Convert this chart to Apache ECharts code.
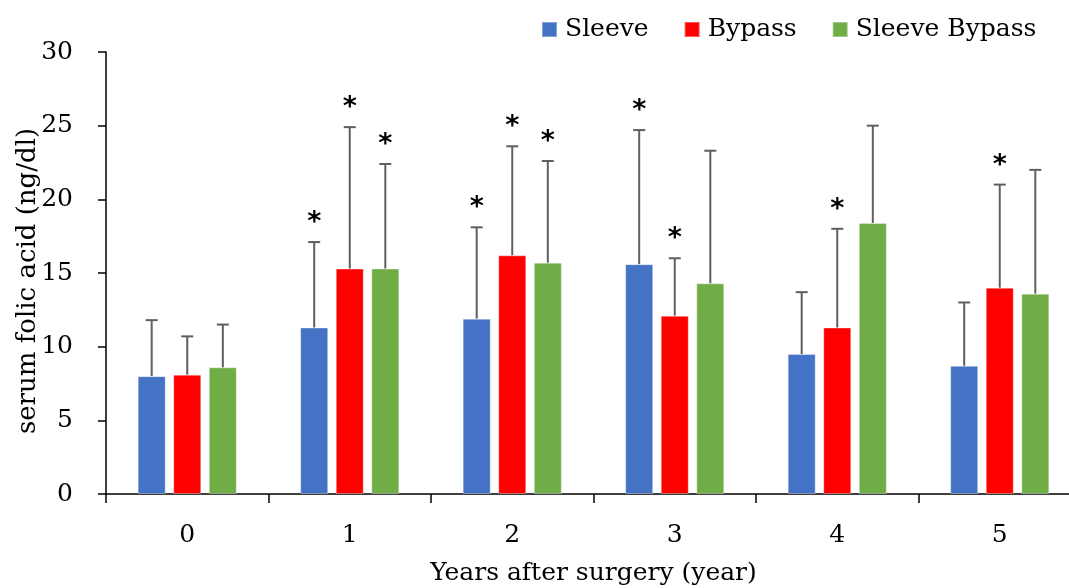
<!DOCTYPE html>
<html>
<head>
<meta charset="utf-8">
<script src="https://cdn.jsdelivr.net/npm/echarts@6/dist/echarts.min.js"></script>
<style>
  html, body { margin: 0; padding: 0; background: #ffffff; overflow: hidden; }
  #chart { width: 1069px; height: 588px; }
</style>
</head>
<body>
<div id="chart"></div>
<script>
// Serum folic acid by years after surgery (mean with upper SD)
const categories = ['0', '1', '2', '3', '4', '5'];
const seriesNames = ['Sleeve', 'Bypass', 'Sleeve Bypass'];
const sleeveMean = [8.0, 11.3, 11.9, 15.6, 9.5, 8.7];
const bypassMean = [8.1, 15.3, 16.2, 12.1, 11.3, 14.0];
const sleeveBypassMean = [8.6, 15.3, 15.7, 14.3, 18.4, 13.6];
const sleeveSD = [3.8, 5.8, 6.2, 9.1, 4.2, 4.3];
const bypassSD = [2.6, 9.6, 7.4, 3.9, 6.7, 7.0];
const sleeveBypassSD = [2.9, 7.1, 6.9, 9.0, 6.6, 8.4];
// significance markers (*) per group and year
const sleeveSig = [0, 1, 1, 1, 0, 0];
const bypassSig = [0, 1, 1, 1, 1, 1];
const sleeveBypassSig = [0, 1, 1, 0, 0, 0];
const yTicks = [0, 5, 10, 15, 20, 25, 30];

const colors = ['#4472C4', '#FF0000', '#70AD47'];
const means = [sleeveMean, bypassMean, sleeveBypassMean];
const sds = [sleeveSD, bypassSD, sleeveBypassSD];
const sigs = [sleeveSig, bypassSig, sleeveBypassSig];

const FONT = 'DejaVu Serif';
const FS = 25;
const BAR_W = 28;
const GAP_RATIO = 0.27;

const chart = echarts.init(document.getElementById('chart'), null, { renderer: 'canvas' });

const barSeries = seriesNames.map((name, i) => ({
  name: name,
  type: 'bar',
  data: means[i],
  barWidth: BAR_W,
  barGap: (GAP_RATIO * 100) + '%',
  itemStyle: { color: colors[i], borderColor: 'rgba(255,255,255,0.35)', borderWidth: 1 },
  z: 2
}));

const errSeries = seriesNames.map((name, i) => ({
  name: name + ' SD',
  type: 'custom',
  z: 5,
  data: categories.map((c, k) => [k, means[i][k], sds[i][k], sigs[i][k]]),
  renderItem: function (params, api) {
    const offset = (i - 1) * BAR_W * (1 + GAP_RATIO);
    const base = api.coord([api.value(0), api.value(1)]);
    const top = api.coord([api.value(0), api.value(1) + api.value(2)]);
    const x = base[0] + offset;
    const children = [
      { type: 'line', shape: { x1: x, y1: base[1], x2: x, y2: top[1] },
        style: { stroke: '#5f5f5f', lineWidth: 2 } },
      { type: 'line', shape: { x1: x - 6, y1: top[1], x2: x + 6, y2: top[1] },
        style: { stroke: '#5f5f5f', lineWidth: 2 } }
    ];
    if (api.value(3)) {
      children.push({
        type: 'text',
        x: x, y: top[1] - 19,
        style: { text: '*', fill: '#000', font: 'bold 27px "DejaVu Sans"',
                 align: 'center', verticalAlign: 'middle' }
      });
    }
    return { type: 'group', children: children };
  }
}));

chart.setOption({
  animation: false,
  backgroundColor: '#ffffff',
  textStyle: { fontFamily: FONT },
  legend: {
    data: seriesNames,
    top: 12,
    left: 536,
    itemWidth: 15,
    itemHeight: 15,
    itemGap: 35,
    icon: 'rect',
    textStyle: { fontFamily: FONT, fontSize: FS, color: '#000', padding: [0, 0, 0, 3] }
  },
  grid: { left: 106, right: -12, top: 52, bottom: 94, containLabel: false, outerBoundsMode: 'none' },
  xAxis: {
    type: 'category',
    data: categories,
    name: 'Years after surgery (year)',
    nameLocation: 'middle',
    nameGap: 67,
    nameMoveOverlap: false,
    nameTextStyle: { fontFamily: FONT, fontSize: FS, color: '#000' },
    axisLine: { lineStyle: { color: '#000', width: 1.5 } },
    axisTick: { show: true, length: 9, inside: false, lineStyle: { color: '#000', width: 1.5 } },
    axisLabel: { margin: 29, fontFamily: FONT, fontSize: FS, color: '#000' },
    splitLine: { show: false }
  },
  yAxis: {
    type: 'value',
    min: yTicks[0],
    max: yTicks[yTicks.length - 1],
    interval: yTicks[1] - yTicks[0],
    name: 'serum folic acid (ng/dl)',
    nameLocation: 'middle',
    nameGap: 65,
    nameMoveOverlap: false,
    nameTextStyle: { fontFamily: FONT, fontSize: 26, color: '#000', padding: [0, 16, 0, 0] },
    axisLine: { show: true, lineStyle: { color: '#000', width: 1.5 } },
    axisTick: { show: true, length: 8, lineStyle: { color: '#000', width: 1.5 } },
    axisLabel: { margin: 33, fontFamily: FONT, fontSize: FS, color: '#000' },
    splitLine: { show: false }
  },
  series: barSeries.concat(errSeries)
});
</script>
</body>
</html>
